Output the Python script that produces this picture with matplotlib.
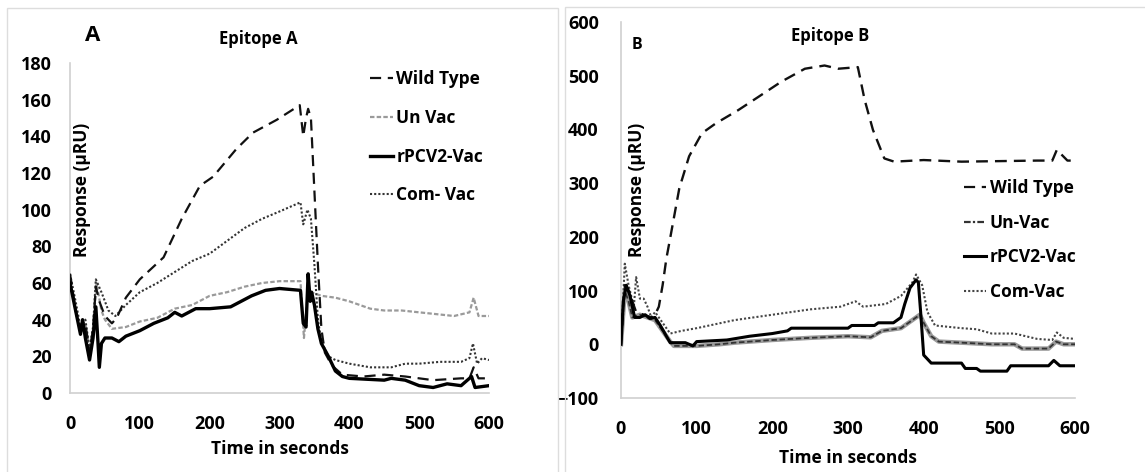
import matplotlib.pyplot as plt
from matplotlib.patches import Rectangle

plt.rcParams['font.family'] = ['Open Sans', 'DejaVu Sans']
plt.rcParams['font.weight'] = 'bold'

# ---- Epitope A ----
a_wild_t = [0, 3, 8, 15, 22, 28, 33, 37, 42, 50, 60, 67, 80, 100, 134, 160, 186, 205, 238, 262, 296, 329, 334,
            338, 341, 345, 350, 355, 360, 365, 375, 390, 420, 450, 480, 520, 560, 572, 578, 585, 600]
a_wild_y = [65, 58, 45, 34, 38, 22, 35, 58, 50, 42, 38, 41, 52, 62, 74, 95, 113, 118, 133, 142, 149, 157, 140,
            150, 155, 150, 110, 70, 35, 22, 15, 10, 9, 10, 9, 7, 8, 8, 14, 8, 8]

a_unvac_t = [0, 8, 15, 22, 28, 33, 38, 45, 50, 60, 80, 100, 125, 150, 175, 200, 225, 250, 275, 300, 330, 335,
             340, 345, 360, 380, 400, 430, 450, 475, 500, 525, 550, 572, 578, 585, 600]
a_unvac_y = [62, 45, 33, 38, 22, 35, 60, 45, 40, 35, 36, 39, 41, 46, 48, 53, 55, 58, 60, 61, 61, 30,
             52, 55, 53, 52, 50, 46, 45, 45, 44, 43, 42, 44, 52, 42, 42]

a_rpcv_t = [0, 8, 15, 18, 22, 28, 33, 37, 40, 42, 45, 50, 60, 70, 80, 100, 120, 140, 150, 160, 180, 200, 230,
            260, 280, 300, 330, 334, 338, 341, 344, 346, 350, 355, 360, 370, 380, 390, 400, 450, 460, 480,
            500, 520, 540, 560, 575, 580, 600]
a_rpcv_y = [60, 45, 32, 40, 30, 18, 30, 47, 28, 14, 27, 30, 30, 28, 31, 34, 38, 41, 44, 42, 46, 46, 47,
            53, 56, 57, 56, 38, 36, 65, 50, 55, 48, 35, 27, 20, 12, 9, 8, 7, 8, 7,
            4, 3, 5, 4, 9, 3, 4]

a_com_t = [0, 8, 15, 22, 28, 33, 37, 45, 55, 65, 80, 100, 125, 150, 175, 200, 225, 250, 275, 300, 330, 334,
           340, 345, 350, 355, 360, 370, 380, 400, 430, 460, 480, 500, 530, 560, 572, 577, 583, 590, 600]
a_com_y = [65, 50, 36, 40, 24, 36, 62, 55, 45, 42, 48, 55, 60, 66, 72, 76, 83, 90, 95, 99, 104, 92,
           100, 95, 70, 40, 28, 20, 18, 16, 14, 14, 16, 16, 17, 17, 19, 27, 16, 19, 18]

# ---- Epitope B ----
b_wild_t = [0, 5, 10, 20, 30, 40, 45, 50, 55, 60, 64, 77, 90, 107, 125, 155, 182, 212, 243, 269, 287, 313,
            322, 333, 348, 361, 400, 450, 500, 550, 570, 576, 590, 600]
b_wild_y = [0, 110, 100, 60, 55, 50, 55, 70, 110, 160, 190, 290, 350, 393, 411, 436, 461, 489, 513, 519, 513, 516,
            455, 399, 346, 340, 343, 340, 341, 342, 342, 362, 342, 342]

b_unvac_t = [0, 5, 10, 15, 25, 35, 45, 55, 65, 70, 100, 130, 150, 200, 250, 300, 330, 345, 370, 385, 395,
             400, 410, 420, 450, 490, 520, 530, 565, 575, 585, 600]
b_unvac_y = [0, 100, 80, 50, 55, 50, 45, 25, 5, -3, -3, 0, 3, 8, 12, 15, 13, 25, 30, 45, 55,
             40, 15, 5, 3, 0, 0, -8, -8, 5, 0, 0]

b_rpcv_t = [0, 3, 7, 12, 18, 25, 32, 38, 45, 52, 60, 65, 85, 95, 100, 140, 170, 200, 220, 225, 300, 305, 335,
            340, 360, 370, 375, 382, 390, 393, 396, 400, 410, 450, 455, 470, 475, 510, 515, 565, 572, 580, 600]
b_rpcv_y = [0, 80, 110, 90, 50, 50, 55, 48, 50, 35, 15, 3, 3, -3, 5, 8, 15, 20, 25, 30, 30, 35, 35,
            40, 40, 50, 75, 105, 120, 115, 60, -20, -35, -35, -45, -45, -50, -50, -40, -40, -30, -40, -40]

b_com_t = [0, 5, 10, 17, 20, 25, 30, 35, 40, 45, 55, 65, 80, 100, 150, 200, 250, 290, 310, 320, 350, 370,
           385, 390, 398, 405, 415, 450, 470, 490, 520, 550, 570, 576, 585, 600]
b_com_y = [0, 150, 110, 70, 125, 85, 85, 70, 50, 60, 40, 20, 25, 30, 45, 55, 65, 70, 80, 70, 75, 90,
           115, 130, 110, 60, 35, 30, 28, 20, 20, 10, 8, 22, 12, 10]

legend_a = ['Wild Type', 'Un Vac', 'rPCV2-Vac', 'Com- Vac']
legend_b = ['Wild Type', 'Un-Vac', 'rPCV2-Vac', 'Com-Vac']

fig = plt.figure(figsize=(11.45, 4.72), dpi=100)

# light panel frames
fig.patches.append(Rectangle((7 / 1145, -0.01), 551 / 1145, 1 - 8 / 472 + 0.01, transform=fig.transFigure,
                             fill=False, edgecolor='#dddddd', lw=1))
fig.patches.append(Rectangle((565 / 1145, -0.01), 590 / 1145, 1 - 7 / 472 + 0.01, transform=fig.transFigure,
                             fill=False, edgecolor='#dddddd', lw=1))

axA = fig.add_axes([70 / 1145, 79 / 472, 419 / 1145, 330 / 472])
axB = fig.add_axes([621 / 1145, 74 / 472, 454 / 1145, 376 / 472])


def style(ax, ypad):
    for s in ['top', 'right']:
        ax.spines[s].set_visible(False)
    for s in ['left', 'bottom']:
        ax.spines[s].set_color('#d0d0d0')
        ax.spines[s].set_linewidth(1.2)
    ax.tick_params(length=0, labelsize=13)
    ax.tick_params(axis='x', pad=16)
    ax.tick_params(axis='y', pad=ypad)
    ax.set_xlim(0, 600)
    ax.set_xticks(range(0, 601, 100))


# panel A
axA.plot(a_unvac_t, a_unvac_y, color='#9a9a9a', lw=1.6, ls=(0, (2, 1)), label=legend_a[1], zorder=2)
axA.plot(a_com_t, a_com_y, color='#333333', lw=1.5, ls=(0, (1, 1)), label=legend_a[3], zorder=3)
axA.plot(a_wild_t, a_wild_y, color='#111111', lw=1.6, ls=(0, (5, 3)), label=legend_a[0], zorder=4)
axA.plot(a_rpcv_t, a_rpcv_y, color='#000000', lw=2.4, label=legend_a[2], zorder=5)
style(axA, 13)
axA.set_ylim(0, 180)
axA.set_yticks(range(0, 181, 20))
axA.set_xlabel('Time in seconds', fontsize=12.5, fontweight='bold', labelpad=5)
axA.text(17, 111, 'Response (µRU)', rotation=90, fontsize=12.5, fontweight='bold', ha='center', va='center')
axA.text(269, 193, 'Epitope A', fontsize=12, fontweight='bold', ha='center', va='center')
axA.text(33, 195, 'A', fontsize=16, fontweight='bold', ha='center', va='center')
hA, lA = axA.get_legend_handles_labels()
order = [lA.index(n) for n in legend_a]
axA.legend([hA[i] for i in order], legend_a, loc='upper left', bbox_to_anchor=(0.7, 1.0), frameon=False,
           handlelength=1.3, handletextpad=0.2, labelspacing=1.2, borderaxespad=0,
           prop={'weight': 'bold', 'size': 12.5})

# panel B
axB.plot(b_unvac_t, b_unvac_y, color='#9a9a9a', lw=3.2, zorder=2)
axB.plot(b_unvac_t, b_unvac_y, color='#333333', lw=1.3, ls=(0, (3, 1.5)), zorder=2.1)
axB.plot(b_com_t, b_com_y, color='#444444', lw=1.5, ls=(0, (1, 1)), zorder=3)
axB.plot(b_wild_t, b_wild_y, color='#111111', lw=1.7, ls=(0, (5, 3)), zorder=4)
axB.plot(b_rpcv_t, b_rpcv_y, color='#000000', lw=2.2, zorder=5)
style(axB, 16)
axB.set_ylim(-100, 600)
axB.set_yticks(range(-100, 601, 100))
axB.set_xlabel('Time in seconds', fontsize=12.5, fontweight='bold', labelpad=8)
axB.text(21, 287, 'Response (µRU)', rotation=90, fontsize=12.5, fontweight='bold', ha='center', va='center')
axB.text(276, 574, 'Epitope B', fontsize=12, fontweight='bold', ha='center', va='center')
axB.text(21, 557, 'B', fontsize=11.5, fontweight='bold', ha='center', va='center')
hB = [plt.Line2D([], [], color='#111111', lw=1.6, ls=(0, (5, 3))),
      plt.Line2D([], [], color='#333333', lw=1.6, ls=(0, (3, 1, 1, 1))),
      plt.Line2D([], [], color='#000000', lw=2.2),
      plt.Line2D([], [], color='#444444', lw=1.5, ls=(0, (1, 1)))]
axB.legend(hB, legend_b, loc='upper left', bbox_to_anchor=(0.74, 0.6), frameon=False,
           handlelength=1.3, handletextpad=0.2, labelspacing=0.95, borderaxespad=0,
           prop={'weight': 'bold', 'size': 12.5})

fig.savefig('out.png', dpi=100)
